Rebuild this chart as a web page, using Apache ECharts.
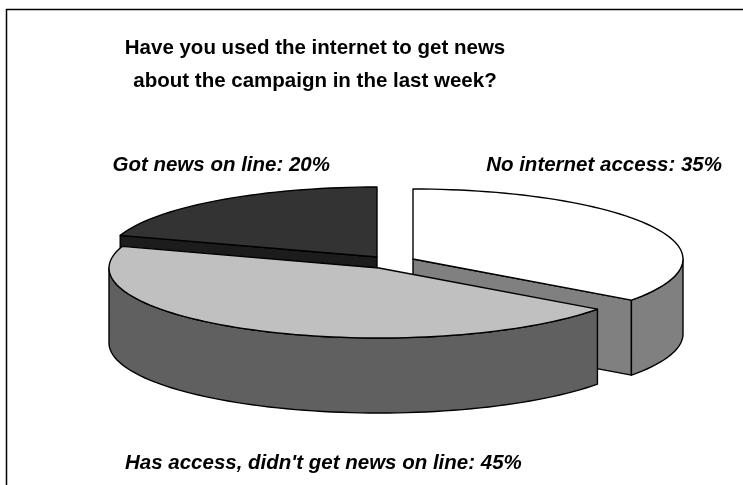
<!DOCTYPE html>
<html>
<head>
<meta charset="utf-8">
<script src="https://cdn.jsdelivr.net/npm/echarts@6/dist/echarts.min.js"></script>
<style>html,body{margin:0;padding:0;background:#fff}#c{width:743px;height:485px}</style>
</head>
<body>
<div id="c"></div>
<script>
// ---- data ----
const categories = ['No internet access', "Has access, didn't get news on line", 'Got news on line'];
const values = [35, 45, 20];
const titleLines = ['Have you used the internet to get news', 'about the campaign in the last week?'];

// ---- styles / layout ----
const topColors = ['#ffffff', '#c0c0c0', '#333333'];
const sideColors = ['#808080', '#606060', '#1c1c1c'];
const pieCenter = [379, 262];
const radiusX = 270, radiusY = 70, depth = 75;
const explode = [[34, -3], [0, 6], [-2, -5]];
const drawOrder = [2, 3, 1];
const labelPos = [
  {x: 722, y: 165, align: 'right'},
  {x: 125, y: 463, align: 'left'},
  {x: 330, y: 165, align: 'right'}
];

const total = values.reduce((a, b) => a + b, 0);
const startAngles = [];
let acc = 0;
values.forEach(v => { startAngles.push(acc / total * 360); acc += v; });

const chart = echarts.init(document.getElementById('c'));
const rad = d => d * Math.PI / 180;

function renderItem(params, api) {
  const i = params.dataIndex;
  const v = api.value(1);
  const a0 = startAngles[i];
  const a1 = a0 + v / total * 360;
  const cData = [pieCenter[0] + explode[i][0], pieCenter[1] + explode[i][1]];
  const c = api.coord(cData);
  const ex = api.coord([cData[0] + radiusX, cData[1]]);
  const ey = api.coord([cData[0], cData[1] + radiusY]);
  const ed = api.coord([cData[0], cData[1] + depth]);
  const rx = Math.abs(ex[0] - c[0]);
  const ry = Math.abs(ey[1] - c[1]);
  const d = Math.abs(ed[1] - c[1]);
  const pt = (t, h) => [c[0] + rx * Math.sin(rad(t)), c[1] - ry * Math.cos(rad(t)) + h];
  const arc = (t0, t1, h) => {
    const pts = [];
    const n = Math.max(4, Math.ceil(Math.abs(t1 - t0) / 2));
    for (let k = 0; k <= n; k++) pts.push(pt(t0 + (t1 - t0) * k / n, h));
    return pts;
  };
  const z = drawOrder[i] * 10;
  const stroke = {stroke: '#000', lineWidth: 1.4, lineJoin: 'round'};
  const children = [];
  const wall = (t, zz) => children.push({
    type: 'polygon', z2: zz,
    shape: {points: [[c[0], c[1]], pt(t, 0), pt(t, d), [c[0], c[1] + d]]},
    style: Object.assign({fill: sideColors[i]}, stroke)
  });
  const vis = phi => -Math.cos(rad(phi)) > 1e-6;
  if (vis(a0 - 90)) wall(a0, z + 1);
  if (vis(a1 + 90)) wall(a1, z + 1);
  const s0 = Math.max(a0, 90), s1 = Math.min(a1, 270);
  if (s1 > s0) {
    const top = arc(s0, s1, 0);
    const bot = arc(s1, s0, d);
    children.push({
      type: 'polygon', z2: z + 2,
      shape: {points: top.concat(bot)},
      style: Object.assign({fill: sideColors[i]}, stroke)
    });
  }
  children.push({
    type: 'polygon', z2: z + 3,
    shape: {points: [[c[0], c[1]]].concat(arc(a0, a1, 0))},
    style: Object.assign({fill: topColors[i]}, stroke)
  });
  const lp = api.coord([labelPos[i].x, labelPos[i].y]);
  children.push({
    type: 'text', z2: 100,
    style: {
      x: lp[0], y: lp[1],
      text: categories[i] + ': ' + v + '%',
      textAlign: labelPos[i].align, textVerticalAlign: 'middle',
      fill: '#000',
      font: 'italic bold 20.5px "Liberation Sans", Arial, sans-serif'
    }
  });
  return {type: 'group', children: children};
}

chart.setOption({
  animation: false,
  backgroundColor: '#fff',
  title: {
    text: titleLines.join('\n'),
    left: 310, top: 27, textAlign: 'center',
    textStyle: {fontFamily: '"Liberation Sans", Arial, sans-serif', fontSize: 20.5, fontWeight: 'bold', color: '#000', lineHeight: 33}
  },
  graphic: [{
    type: 'rect', silent: true, z: -1,
    shape: {x: 6.5, y: 9.5, width: 900, height: 700},
    style: {fill: 'none', stroke: '#000', lineWidth: 1.5}
  }],
  grid: {left: 0, right: 0, top: 0, bottom: 0},
  xAxis: {type: 'value', min: 0, max: 743, show: false},
  yAxis: {type: 'value', min: 0, max: 485, inverse: true, show: false},
  series: [{
    type: 'custom',
    renderItem: renderItem,
    data: values.map((v, i) => [i, v]),
    clip: false
  }]
});
</script>
</body>
</html>
